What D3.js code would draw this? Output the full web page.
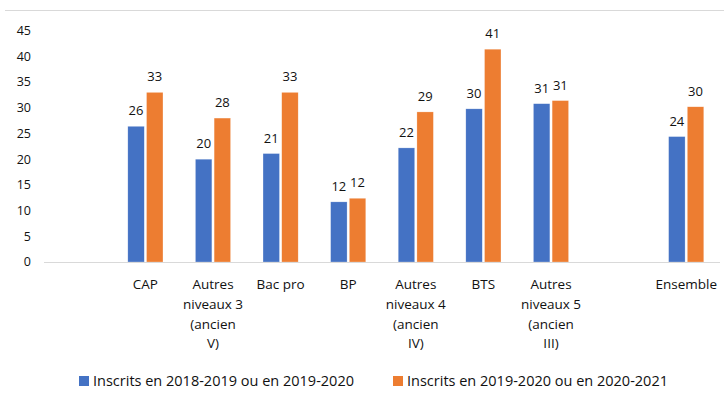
<!DOCTYPE html>
<html>
<head>
<meta charset="utf-8">
<script src="https://cdn.jsdelivr.net/npm/d3@7"></script>
<style>
  body { margin: 0; background: #fff; }
  text { font-family: "Open Sans", "Liberation Sans", Arial, sans-serif; fill: #111; }
</style>
</head>
<body>
<svg id="chart"></svg>
<script>
const width = 724;
const height = 400;

// data
const categories = ['', 'CAP', 'Autres niveaux 3 (ancien V)', 'Bac pro', 'BP',
  'Autres niveaux 4 (ancien IV)', 'BTS', 'Autres niveaux 5 (ancien III)', '', 'Ensemble'];
const categoryLines = [[], ['CAP'], ['Autres', 'niveaux 3', '(ancien', 'V)'], ['Bac pro'], ['BP'],
  ['Autres', 'niveaux 4', '(ancien', 'IV)'], ['BTS'], ['Autres', 'niveaux 5', '(ancien', 'III)'], [], ['Ensemble']];
const series1 = [null, 26.4, 20.0, 21.1, 11.7, 22.2, 29.8, 30.8, null, 24.4];
const series2 = [null, 33.0, 28.0, 33.0, 12.4, 29.2, 41.4, 31.4, null, 30.2];
const seriesNames = ['Inscrits en 2018-2019 ou en 2019-2020', 'Inscrits en 2019-2020 ou en 2020-2021'];
const yTicks = [0, 5, 10, 15, 20, 25, 30, 35, 40, 45];

// colors
const blue = '#4472C4';
const orange = '#ED7D31';
const colors = [blue, orange];

const svg = d3.select('#chart')
  .attr('width', width)
  .attr('height', height);

// chart frame top line
svg.append('line')
  .attr('x1', 5).attr('x2', width)
  .attr('y1', 10.5).attr('y2', 10.5)
  .attr('stroke', '#d9d9d9');

const x = d3.scaleBand()
  .domain(d3.range(categories.length))
  .range([44, 720])
  .paddingInner(0.48)
  .paddingOuter(0.24);

const xSub = d3.scaleBand()
  .domain([0, 1])
  .range([0, x.bandwidth()])
  .paddingInner(0.12);

const y = d3.scaleLinear()
  .domain([0, 45])
  .range([262, 30.7]);

// y axis labels
svg.append('g')
  .selectAll('text')
  .data(yTicks)
  .enter()
  .append('text')
    .attr('x', 31)
    .attr('y', d => y(d))
    .attr('dy', '0.35em')
    .attr('text-anchor', 'end')
    .style('font-size', '12.5px')
    .text(d => d);

// bars
const rows = [series1, series2];
rows.forEach((values, s) => {
  const data = values.map((v, i) => ({ i, v })).filter(d => d.v !== null);
  const g = svg.append('g');
  g.selectAll('rect')
    .data(data)
    .enter()
    .append('rect')
      .attr('x', d => x(d.i) + xSub(s))
      .attr('y', d => y(d.v))
      .attr('width', xSub.bandwidth())
      .attr('height', d => y(0) - y(d.v))
      .attr('fill', colors[s])
      .attr('stroke', '#fff')
      .attr('stroke-opacity', 0.5)
      .attr('stroke-width', 0.5);
  g.selectAll('text')
    .data(data)
    .enter()
    .append('text')
      .attr('x', d => x(d.i) + xSub(s) + xSub.bandwidth() / 2)
      .attr('y', d => y(d.v) - 11)
      .attr('text-anchor', 'middle')
      .style('font-size', '13px')
      .text(d => d3.format('.0f')(d.v));
});

// baseline
svg.append('line')
  .attr('x1', 44).attr('x2', 720)
  .attr('y1', y(0) + 0.5).attr('y2', y(0) + 0.5)
  .attr('stroke', '#d9d9d9');

// category labels
const catLabels = svg.append('g')
  .selectAll('text')
  .data(categoryLines)
  .enter()
  .append('text')
    .attr('text-anchor', 'middle')
    .style('font-size', '13.5px')
    .attr('transform', (d, i) => `translate(${x(i) + x.bandwidth() / 2}, 289)`);
catLabels.selectAll('tspan')
  .data(d => d)
  .enter()
  .append('tspan')
    .attr('x', 0)
    .attr('y', (d, j) => j * 19.8)
    .text(d => d);

// legend
const legendX = [79, 393];
const legend = svg.append('g')
  .selectAll('g')
  .data(seriesNames)
  .enter()
  .append('g')
    .attr('transform', (d, i) => `translate(${legendX[i]}, 376)`);
legend.append('rect')
  .attr('width', 10)
  .attr('height', 10)
  .attr('fill', (d, i) => colors[i]);
legend.append('text')
  .attr('x', 14)
  .attr('y', 5)
  .attr('dy', '0.35em')
  .style('font-size', '14.5px')
  .text(d => d);
</script>
</body>
</html>
